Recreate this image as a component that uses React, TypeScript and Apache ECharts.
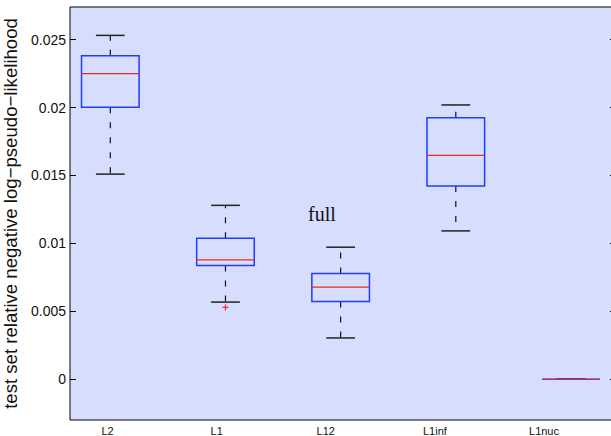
import React, { useEffect, useRef } from "react";
import * as echarts from "echarts";

const categories = ["L2", "L1", "L12", "L1inf", "L1nuc"];
const lowerWhisker = [0.0151, 0.00568, 0.00304, 0.01092, 0];
const q1 = [0.02002, 0.00837, 0.00573, 0.01422, 0];
const median = [0.0225, 0.00879, 0.00678, 0.01648, 0];
const q3 = [0.02382, 0.01038, 0.00778, 0.01924, 0];
const upperWhisker = [0.02531, 0.0128, 0.00972, 0.02019, 0];
const outliers: [number, number][] = [[1, 0.00529]]; // [category index, value]
const yTicks = [0, 0.005, 0.01, 0.015, 0.02, 0.025];
const titleText = "full";
const yName = "test set relative negative log\u2212pseudo\u2212likelihood";

const SANS = "Liberation Sans, Arial, sans-serif";

export default function App() {
  const ref = useRef<HTMLDivElement>(null);
  useEffect(() => {
    if (!ref.current) return;
    const chart = echarts.init(ref.current, null, { renderer: "svg" });
    const boxData = categories.map((c, i) => [
      i + 1,
      lowerWhisker[i],
      q1[i],
      median[i],
      q3[i],
      upperWhisker[i],
    ]);
    const outlierData = outliers.map(([i, v]) => [i + 1, v]);

    const option: any = {
      animation: false,
      title: {
        text: titleText,
        left: 308,
        top: 204,
        padding: 0,
        textStyle: {
          fontFamily: "Liberation Serif, Times New Roman, serif",
          fontSize: 20,
          fontWeight: "normal",
          color: "#111",
        },
      },
      grid: [
        {
          left: 70,
          top: 7,
          width: 546,
          height: 413,
          show: true,
          backgroundColor: "#d7ddfd",
          borderColor: "#000",
          borderWidth: 1,
          outerBoundsMode: "none",
          containLabel: false,
        },
        {
          left: 52.96,
          top: 7,
          width: 545.6,
          height: 413,
          show: false,
          outerBoundsMode: "none",
          containLabel: false,
        },
      ],
      xAxis: [
        {
          type: "value",
          gridIndex: 0,
          min: 0.65,
          max: 5.391,
          axisLine: { show: false },
          axisTick: { show: false },
          axisLabel: { show: false },
          splitLine: { show: false },
        },
        {
          type: "category",
          gridIndex: 1,
          data: categories,
          boundaryGap: true,
          axisLine: { show: false },
          axisTick: { show: false },
          splitLine: { show: false },
          axisLabel: {
            fontFamily: SANS,
            fontSize: 11,
            color: "#111",
            margin: 5,
          },
        },
      ],
      yAxis: [
        {
          type: "value",
          gridIndex: 0,
          position: "left",
          min: -0.003,
          max: 0.0274,
          name: yName,
          nameLocation: "middle",
          nameGap: 50,
          nameTextStyle: { fontFamily: SANS, fontSize: 18.6, color: "#111" },
          axisLine: { show: false },
          splitLine: { show: false },
          axisTick: {
            show: true,
            inside: true,
            length: 6,
            customValues: yTicks,
            lineStyle: { color: "#000", width: 1 },
          },
          axisLabel: {
            customValues: yTicks,
            fontFamily: SANS,
            fontSize: 14,
            color: "#111",
            margin: 4,
            formatter: (v: number) => String(v),
          },
        },
        {
          type: "value",
          gridIndex: 0,
          position: "right",
          min: -0.003,
          max: 0.0274,
          axisLine: { show: false },
          splitLine: { show: false },
          axisTick: {
            show: true,
            inside: true,
            length: 6,
            customValues: yTicks,
            lineStyle: { color: "#000", width: 1 },
          },
          axisLabel: { show: false },
        },
        {
          type: "value",
          gridIndex: 1,
          show: false,
          min: 0,
          max: 1,
        },
      ],
      series: [
        {
          type: "custom",
          xAxisIndex: 0,
          yAxisIndex: 0,
          data: boxData,
          encode: { x: 0, y: [1, 2, 3, 4, 5] },
          renderItem: (params: any, api: any) => {
            const x = api.value(0);
            const yLw = api.coord([x, api.value(1)])[1];
            const yQ1 = api.coord([x, api.value(2)])[1];
            const yMed = api.coord([x, api.value(3)])[1];
            const yQ3 = api.coord([x, api.value(4)])[1];
            const yUw = api.coord([x, api.value(5)])[1];
            const cx = api.coord([x, 0])[0];
            const bw = api.size([0.5, 0])[0];
            const half = bw / 2;
            const cw = api.size([0.25, 0])[0] / 2;
            const dash = { stroke: "#111", lineWidth: 1.2, lineDash: [6, 9] };
            const cap = { stroke: "#222", lineWidth: 1.5 };
            return {
              type: "group",
              children: [
                { type: "line", shape: { x1: cx, y1: yQ3, x2: cx, y2: yUw }, style: dash },
                { type: "line", shape: { x1: cx, y1: yQ1, x2: cx, y2: yLw }, style: dash },
                { type: "line", shape: { x1: cx - cw, y1: yUw, x2: cx + cw, y2: yUw }, style: cap },
                { type: "line", shape: { x1: cx - cw, y1: yLw, x2: cx + cw, y2: yLw }, style: cap },
                {
                  type: "rect",
                  shape: { x: cx - half, y: yQ3, width: bw, height: yQ1 - yQ3 },
                  style: { fill: "none", stroke: "#1f3cff", lineWidth: 1.5 },
                },
                {
                  type: "line",
                  shape: { x1: cx - half, y1: yMed, x2: cx + half, y2: yMed },
                  style: { stroke: "#f02a20", lineWidth: 1.2 },
                },
              ],
            };
          },
        },
        {
          type: "custom",
          xAxisIndex: 0,
          yAxisIndex: 0,
          data: outlierData,
          encode: { x: 0, y: 1 },
          renderItem: (params: any, api: any) => {
            const p = api.coord([api.value(0), api.value(1)]);
            const s = 3;
            const st = { stroke: "#ff2a2a", lineWidth: 1.2 };
            return {
              type: "group",
              children: [
                { type: "line", shape: { x1: p[0] - s, y1: p[1], x2: p[0] + s, y2: p[1] }, style: st },
                { type: "line", shape: { x1: p[0], y1: p[1] - s, x2: p[0], y2: p[1] + s }, style: st },
              ],
            };
          },
        },
      ],
    };
    chart.setOption(option);
    return () => chart.dispose();
  }, []);
  return (
    <div
      ref={ref}
      style={{ position: "fixed", left: 0, top: 0, width: 611, height: 436, background: "#fff" }}
    />
  );
}
